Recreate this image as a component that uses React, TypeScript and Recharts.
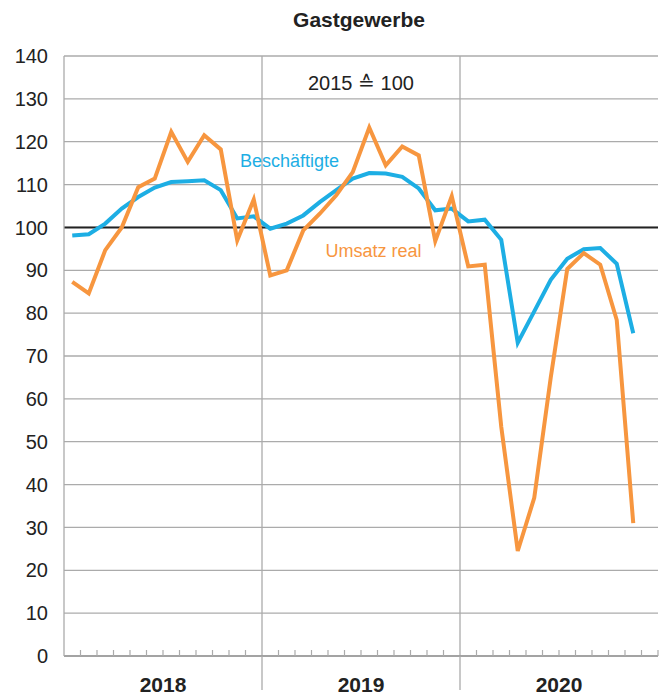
import React from "react";
import { LineChart, Line, XAxis, YAxis, CartesianGrid, ReferenceLine } from "recharts";

const years = ["2018", "2019", "2020"];
const monthsPerYear = 12;
const yTicks = [0, 10, 20, 30, 40, 50, 60, 70, 80, 90, 100, 110, 120, 130, 140];

// Jan 2018 – Nov 2020
const umsatzReal = [
  87.3, 84.6, 94.7, 100, 109.4, 111.4, 122.3, 115.3, 121.5, 118.2, 97, 106.5,
  88.8, 90, 99.3, 103.2, 107.5, 112.9, 123.3, 114.5, 118.9, 116.8, 96.8, 107.3,
  90.9, 91.3, 53.5, 24.5, 36.9, 65, 90.3, 94, 91.3, 78.4, 31,
];
const beschaeftigte = [
  98.1, 98.4, 100.9, 104.4, 107.1, 109.3, 110.6, 110.8, 111, 108.7, 102.1, 102.6,
  99.7, 100.9, 102.8, 105.9, 108.7, 111.4, 112.7, 112.6, 111.8, 109.1, 104, 104.4,
  101.4, 101.8, 97.1, 73.1, 80.4, 87.8, 92.7, 94.9, 95.2, 91.5, 75.3,
];

const title = "Gastgewerbe";
const baseLabel = "2015 \u2259 100";
const blueLabel = "Besch\u00e4ftigte";
const orangeLabel = "Umsatz real";

const BLUE = "#1DAEE4";
const ORANGE = "#F7963F";
const GRID = "#ababab";
const FONT = "'Liberation Sans', Arial, Helvetica, sans-serif";

const data = umsatzReal.map((u, i) => ({ t: i + 0.5, umsatz: u, besch: beschaeftigte[i] }));
const totalMonths = years.length * monthsPerYear;
const xTicks = Array.from({ length: totalMonths + 1 }, (_, i) => i);

const XTick = (props: any) => {
  const { x, y, payload } = props;
  const v = payload.value as number;
  const els: any[] = [];
  if (v > 0 && v % monthsPerYear === 0 && v < totalMonths) {
    els.push(<line key="l" x1={x} x2={x} y1={y} y2={y + 34} stroke={GRID} strokeWidth={1.3} />);
  } else if (v > 0) {
    els.push(<line key="t" x1={x} x2={x} y1={y - 6} y2={y} stroke={GRID} strokeWidth={1.2} />);
  }
  if (v % monthsPerYear === monthsPerYear / 2) {
    const yi = Math.floor(v / monthsPerYear);
    els.push(
      <text key="y" x={x} y={y + 36} textAnchor="middle" fontSize={21} fontWeight="bold" fill="#222" fontFamily={FONT}>
        {years[yi]}
      </text>
    );
  }
  return <g>{els}</g>;
};

export default function App() {
  return (
    <div style={{ position: "absolute", left: 0, top: 0, width: 666, height: 696, background: "#fff" }}>
      <LineChart width={666} height={696} data={data} margin={{ top: 56, right: 8, left: 0, bottom: 0 }}>
        <CartesianGrid horizontal={true} vertical={false} stroke={GRID} strokeWidth={1.3} />
        <XAxis
          dataKey="t"
          type="number"
          domain={[0, totalMonths]}
          ticks={xTicks}
          interval={0}
          height={40}
          tickSize={0}
          tickMargin={0}
          tickLine={false}
          axisLine={{ stroke: "#9a9a9a", strokeWidth: 1.6 }}
          tick={<XTick />}
        />
        <YAxis
          type="number"
          domain={[0, 140]}
          ticks={yTicks}
          interval={0}
          width={64}
          tickSize={0}
          tickMargin={16}
          tickLine={false}
          axisLine={{ stroke: GRID, strokeWidth: 1.3 }}
          tick={{ fontSize: 20, fill: "#222", fontFamily: FONT }}
        />
        <ReferenceLine x={12} stroke={GRID} strokeWidth={1.3} />
        <ReferenceLine x={24} stroke={GRID} strokeWidth={1.3} />
        <ReferenceLine y={100} stroke="#222" strokeWidth={2} />
        <Line type="linear" dataKey="besch" stroke={BLUE} strokeWidth={4} dot={false} isAnimationActive={false} />
        <Line type="linear" dataKey="umsatz" stroke={ORANGE} strokeWidth={4} dot={false} isAnimationActive={false} />
      </LineChart>
      <svg width={666} height={696} style={{ position: "absolute", left: 0, top: 0, pointerEvents: "none" }}>
        <text x={359} y={27} textAnchor="middle" fontSize={21} fontWeight="bold" fill="#222" fontFamily={FONT}>
          {title}
        </text>
        <text x={361} y={90} textAnchor="middle" fontSize={20} fill="#222" fontFamily={FONT}>
          {baseLabel}
        </text>
        <text x={240} y={166.5} fontSize={18} fill={BLUE} fontFamily={FONT}>
          {blueLabel}
        </text>
        <text x={325.5} y={256.5} fontSize={18} fill={ORANGE} fontFamily={FONT}>
          {orangeLabel}
        </text>
      </svg>
    </div>
  );
}
